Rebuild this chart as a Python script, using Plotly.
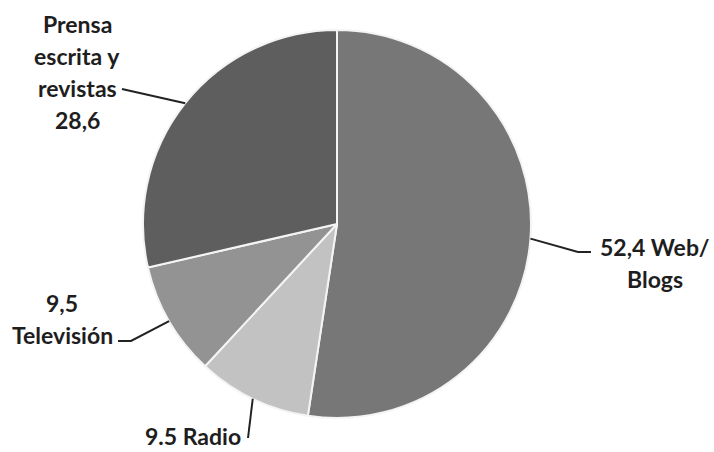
import math
import plotly.graph_objects as go

# ---- data ----
categories = ["Web/ Blogs", "Radio", "Televisión", "Prensa escrita y revistas"]
values = [52.4, 9.5, 9.5, 28.6]
label_lines = [
    ["52,4 Web/", "Blogs"],
    ["9.5 Radio"],
    ["9,5", "Televisión"],
    ["Prensa", "escrita y", "revistas", "28,6"],
]
colors = ["#777777", "#c2c2c2", "#939393", "#5e5e5e"]

# ---- layout geometry (pixels) ----
W, H = 714, 452
ML, MR, MT, MB = 0, 40, 30, 34
PW, PH = W - ML - MR, H - MT - MB
CX, CY = ML + PW / 2, MT + PH / 2
R = min(PW, PH) / 2


def px(x):
    return (x - ML) / PW


def py(y):
    return (H - MB - y) / PH


fig = go.Figure(go.Pie(
    labels=categories, values=values, sort=False, direction="clockwise",
    rotation=0, textinfo="none", hoverinfo="label+value",
    marker=dict(colors=colors, line=dict(color="#f4f4f4", width=2)),
    showlegend=False,
))

# label placement (pixel anchors for text + elbow points)
label_pos = [
    dict(cx=655, cy=247, elbow=[(578, 252), (591, 252)]),
    dict(cx=193, cy=436, elbow=[(248, 438)]),
    dict(cx=62, cy=303, elbow=[(131, 341), (118, 341)]),
    dict(cx=77, cy=24, elbow=[(122, 89)]),
]
LINE_GAP = 32

total = sum(values)
cum = 0
annotations = []
shapes = []
for v, lines, pos in zip(values, label_lines, label_pos):
    mid = (cum + v / 2) / total * 2 * math.pi
    cum += v
    ex = CX + R * math.sin(mid)
    ey = CY - R * math.cos(mid)
    pts = [(ex, ey)] + pos["elbow"]
    path = "M " + " L ".join(f"{px(x)},{py(y)}" for x, y in pts)
    shapes.append(dict(type="path", xref="paper", yref="paper", path=path,
                       line=dict(color="#222222", width=2)))
    for i, t in enumerate(lines):
        annotations.append(dict(
            text=t, xref="paper", yref="paper", x=px(pos["cx"]),
            y=py(pos["cy"] + i * LINE_GAP), xanchor="center", yanchor="middle",
            showarrow=False,
            font=dict(family="Lato", size=23, color="#1e1e1e", weight="bold"),
        ))

fig.update_layout(
    width=W, height=H, margin=dict(l=ML, r=MR, t=MT, b=MB),
    paper_bgcolor="white", plot_bgcolor="white",
    annotations=annotations, shapes=shapes,
)
fig.write_html("out.html")
